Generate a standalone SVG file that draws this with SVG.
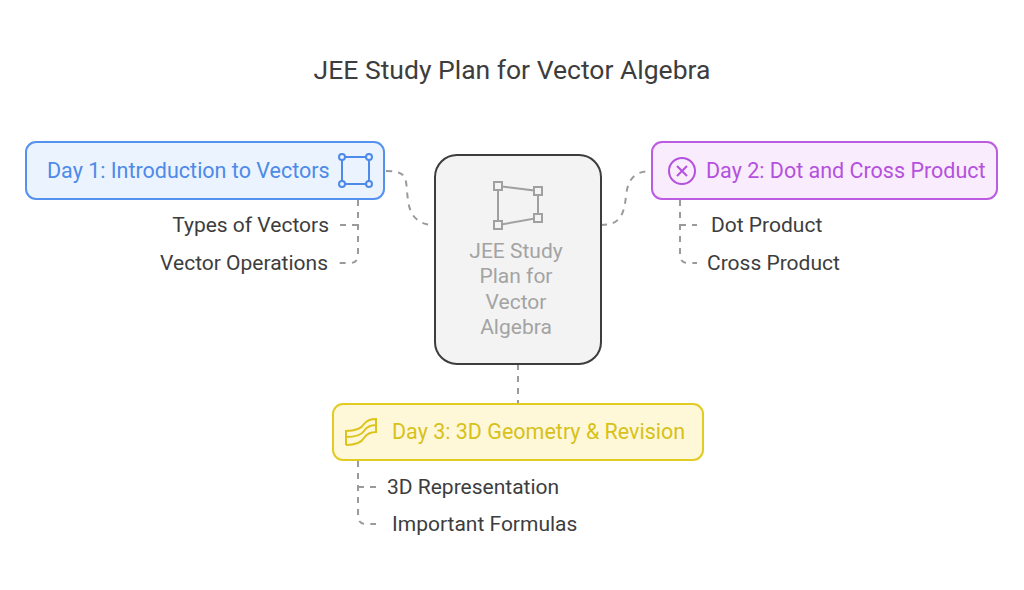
<svg xmlns="http://www.w3.org/2000/svg" width="1024" height="590" viewBox="0 0 1024 590">
<style>
text{font-family:Roboto,"Liberation Sans",sans-serif}
.lbl{font-size:21px;fill:#3d3d3d}
.con{fill:none;stroke:#9a9a9a;stroke-width:2;stroke-dasharray:6 6}
</style>
<rect width="1024" height="590" fill="#fff"/>
<text x="512" y="79" text-anchor="middle" font-size="26.5" fill="#3d3d3d">JEE Study Plan for Vector Algebra</text>
<g id="connectors">
<path class="con" d="M386 171 C410 171 405 180 408 200 C410 218 420 225 435 225"/>
<path class="con" d="M601 225 C620 225 624 215 626 196 C628 178 635 171 652 171"/>
<path class="con" d="M518 364 V404"/>
<path class="con" d="M358 200 V255 Q358 263 350 263 H336"/>
<path class="con" d="M358 225 H340"/>
<path class="con" d="M680 200 V255 Q680 263 688 263 H697"/>
<path class="con" d="M680 225 H697"/>
<path class="con" d="M358 461 V516 Q358 524 366 524 H376"/>
<path class="con" d="M358 487 H376"/>
</g>
<g id="center">
<rect x="435" y="155" width="166" height="209" rx="22" fill="#f3f3f3" stroke="#3d3d3d" stroke-width="2"/>
<g fill="none" stroke="#a0a0a0" stroke-width="2"><path d="M498 186 L538 191 L538 218 L498 225 Z"/><rect x="494" y="182" width="8" height="8" fill="#f3f3f3"/><rect x="534" y="187" width="8" height="8" fill="#f3f3f3"/><rect x="534" y="214" width="8" height="8" fill="#f3f3f3"/><rect x="494" y="221" width="8" height="8" fill="#f3f3f3"/></g>
<g font-size="21" fill="#a3a3a3" text-anchor="middle"><text x="516" y="258">JEE Study</text><text x="516" y="283">Plan for</text><text x="516" y="309">Vector</text><text x="516" y="334">Algebra</text></g>
</g>
<g id="day1">
<rect x="26" y="142" width="358" height="57" rx="10" fill="#ebf3fe" stroke="#5592ef" stroke-width="2"/>
<text x="47" y="178" font-size="21.5" fill="#4d8ae9">Day 1: Introduction to Vectors</text>
<g fill="none" stroke="#4d8ae9" stroke-width="2"><rect x="342" y="157" width="27" height="27"/><circle cx="342" cy="157" r="3" fill="#ebf3fe"/><circle cx="369" cy="157" r="3" fill="#ebf3fe"/><circle cx="342" cy="184" r="3" fill="#ebf3fe"/><circle cx="369" cy="184" r="3" fill="#ebf3fe"/></g>
</g>
<g id="types"><text class="lbl" x="329" y="232" text-anchor="end">Types of Vectors</text></g>
<g id="ops"><text class="lbl" x="328" y="270" text-anchor="end">Vector Operations</text></g>
<g id="day2">
<rect x="652" y="142" width="345" height="57" rx="10" fill="#f9ecfd" stroke="#bb5ce3" stroke-width="2"/>
<circle cx="682" cy="171" r="13" fill="none" stroke="#b451dd" stroke-width="2"/>
<path d="M677 166 L687 176 M687 166 L677 176" stroke="#b451dd" stroke-width="2"/>
<text x="706" y="178" font-size="21.5" fill="#b451dd">Day 2: Dot and Cross Product</text>
</g>
<g id="dot"><text class="lbl" x="711" y="232">Dot Product</text></g>
<g id="cross"><text class="lbl" x="707" y="270">Cross Product</text></g>
<g id="day3">
<rect x="333" y="404" width="370" height="56" rx="10" fill="#fef8d8" stroke="#e2cb23" stroke-width="2"/>
<path d="M346 445 V431 Q360 431 364 424 Q368 419 376 419 V425 Q368 425 364 431 Q360 437 346 437 M346 445 Q360 445 364 438 Q368 432 376 432 V425" fill="none" stroke="#dcc41c" stroke-width="2"/>
<text x="392" y="439" font-size="21.5" fill="#d8c11a">Day 3: 3D Geometry &amp; Revision</text>
</g>
<g id="rep"><text class="lbl" x="387" y="494">3D Representation</text></g>
<g id="formulas"><text class="lbl" x="392" y="531">Important Formulas</text></g>
</svg>
